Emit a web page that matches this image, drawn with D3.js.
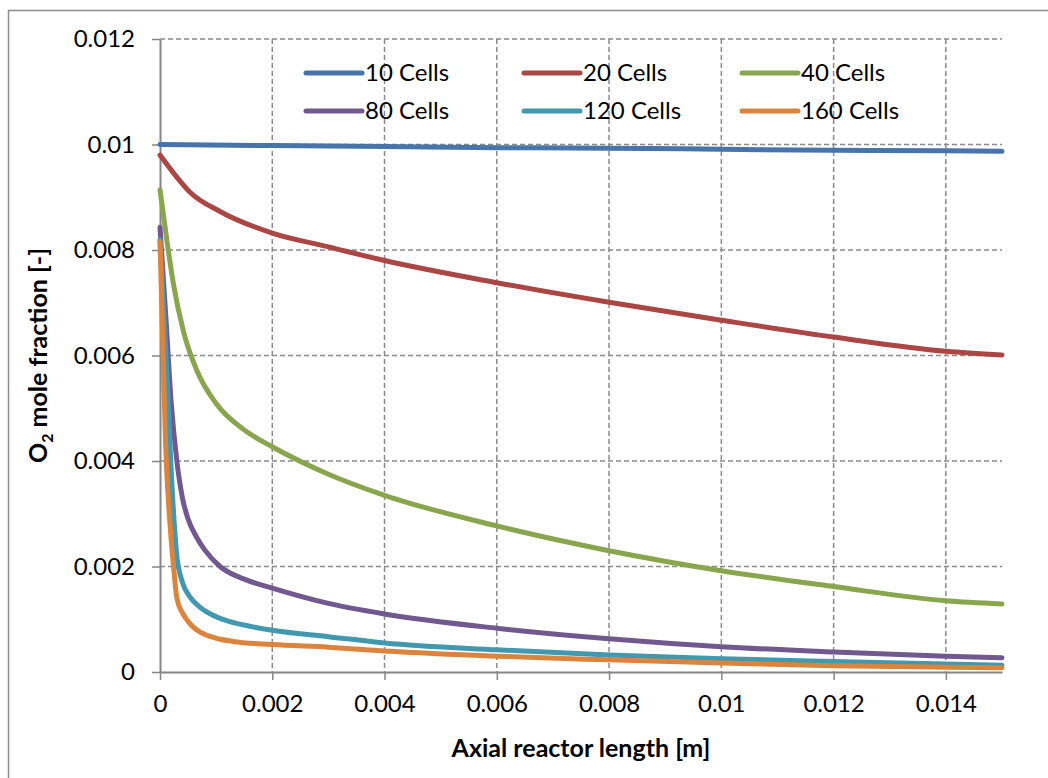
<!DOCTYPE html>
<html>
<head>
<meta charset="utf-8">
<script src="https://d3js.org/d3.v7.min.js"></script>
<style>
  body { margin: 0; background: #fff; }
  text { font-family: Lato, "Noto Sans", sans-serif; fill: #000; }
</style>
</head>
<body>
<div id="chart"></div>
<script>

// ---- data ----
var seriesNames = ["10 Cells", "20 Cells", "40 Cells", "80 Cells", "120 Cells", "160 Cells"];

var x10  = [0, 0.002, 0.004, 0.006, 0.008, 0.010, 0.012, 0.014, 0.015];
var y10  = [0.0100, 0.00998, 0.00996, 0.00994, 0.00993, 0.00991, 0.00989, 0.00988, 0.00987];

var x20  = [0, 0.00027, 0.00053, 0.00107, 0.002, 0.003, 0.004, 0.006, 0.008, 0.010, 0.012, 0.014, 0.015];
var y20  = [0.0098, 0.00942, 0.0091, 0.00873, 0.00832, 0.00806, 0.0078, 0.00738, 0.00701, 0.00667, 0.00635, 0.00608, 0.00601];

var x40  = [0, 0.00012, 0.00024, 0.00042, 0.00065, 0.001, 0.0015, 0.002, 0.003, 0.004, 0.006, 0.008, 0.010, 0.012, 0.014, 0.015];
var y40  = [0.00914, 0.0082, 0.00735, 0.00645, 0.00573, 0.00509, 0.00459, 0.00427, 0.00375, 0.00335, 0.00277, 0.0023, 0.00192, 0.00162, 0.00135, 0.00129];

var x80  = [0, 0.0001, 0.0002, 0.0003, 0.0004, 0.0005, 0.00065, 0.0008, 0.00107, 0.0015, 0.002, 0.003, 0.004, 0.006, 0.008, 0.010, 0.012, 0.014, 0.015];
var y80  = [0.00843, 0.0068, 0.0051, 0.0040, 0.0033, 0.0029, 0.00256, 0.00231, 0.0020, 0.00176, 0.00159, 0.0013, 0.0011, 0.00083, 0.00063, 0.00048, 0.00038, 0.0003, 0.00027];

var x120 = [0, 0.0001, 0.0002, 0.0003, 0.0004, 0.00053, 0.0007, 0.0009, 0.0012, 0.0015, 0.002, 0.003, 0.004, 0.006, 0.008, 0.010, 0.012, 0.014, 0.015];
var y120 = [0.0082, 0.0062, 0.0038, 0.0022, 0.0017, 0.00143, 0.00124, 0.0011, 0.00097, 0.00089, 0.00079, 0.00067, 0.00055, 0.00042, 0.00032, 0.00025, 0.0002, 0.00015, 0.00013];

var x160 = [0, 0.0001, 0.0002, 0.00025, 0.0003, 0.0004, 0.0005, 0.00065, 0.0008, 0.001, 0.0013, 0.002, 0.003, 0.004, 0.006, 0.008, 0.010, 0.012, 0.014, 0.015];
var y160 = [0.00816, 0.0043, 0.0025, 0.0019, 0.0014, 0.00112, 0.00096, 0.0008, 0.00071, 0.00064, 0.00058, 0.00052, 0.00047, 0.0004, 0.0003, 0.00023, 0.00017, 0.00012, 0.00009, 0.00008];

var xTicks = [0, 0.002, 0.004, 0.006, 0.008, 0.010, 0.012, 0.014];
var yTicks = [0, 0.002, 0.004, 0.006, 0.008, 0.010, 0.012];

// ---- styles ----
var colors = ["#4674ab", "#aa4643", "#89a54e", "#71588f", "#4198af", "#db843d"];
var gridColor = "#8a8a8a";

var allX = [x10, x20, x40, x80, x120, x160];
var allY = [y10, y20, y40, y80, y120, y160];
var series = seriesNames.map(function(name, i) {
  return { name: name, points: allX[i].map(function(x, j) { return { x: x, y: allY[i][j] }; }) };
});

var W = 1048, H = 778;
var margin = {top: 39, right: 46, bottom: 106, left: 160};
var width = W - margin.left - margin.right,
    height = H - margin.top - margin.bottom;

var svg = d3.select("#chart").append("svg")
    .attr("width", W)
    .attr("height", H);

svg.append("rect").attr("width", W).attr("height", H).attr("fill", "#fff");

// outer chart border
svg.append("rect")
    .attr("x", 8.5).attr("y", 10.5)
    .attr("width", 1100).attr("height", 800)
    .attr("fill", "none")
    .attr("stroke", "#8c8c8c")
    .attr("stroke-width", 1.5);

var g = svg.append("g")
    .attr("transform", "translate(" + margin.left + "," + margin.top + ")");

var x = d3.scaleLinear().domain([0, 0.015]).range([0, width]);
var y = d3.scaleLinear().domain([0, 0.012]).range([height, 0]);

var fmt = function(d) { return String(+d.toFixed(3)); };

// gridlines
g.append("g")
  .selectAll("line").data(yTicks.filter(function(d) { return d > 0; }))
  .enter().append("line")
    .attr("x1", 0).attr("x2", width)
    .attr("y1", function(d) { return y(d); })
    .attr("y2", function(d) { return y(d); })
    .attr("stroke", gridColor).attr("stroke-width", 1.5)
    .attr("stroke-dasharray", "5,3");

g.append("g")
  .selectAll("line").data(xTicks.filter(function(d) { return d > 0; }))
  .enter().append("line")
    .attr("x1", function(d) { return x(d); })
    .attr("x2", function(d) { return x(d); })
    .attr("y1", 0).attr("y2", height)
    .attr("stroke", gridColor).attr("stroke-width", 1.5)
    .attr("stroke-dasharray", "5,3");

// axes
var xAxis = g.append("g")
    .attr("transform", "translate(0," + height + ")")
    .call(d3.axisBottom(x).tickValues(xTicks).tickFormat(fmt).tickSize(8).tickSizeOuter(0).tickPadding(15));
var yAxis = g.append("g")
    .call(d3.axisLeft(y).tickValues(yTicks).tickFormat(fmt).tickSize(8).tickSizeOuter(0).tickPadding(17));

[xAxis, yAxis].forEach(function(a) {
  a.select(".domain").attr("stroke", "#868686").attr("stroke-width", 2);
  a.selectAll(".tick line").attr("stroke", "#868686").attr("stroke-width", 1.5);
  a.selectAll(".tick text").attr("font-family", "Lato").attr("font-size", 24).attr("fill", "#000");
});

// lines
var line = d3.line()
    .x(function(d) { return x(d.x); })
    .y(function(d) { return y(d.y); })
    .curve(d3.curveMonotoneX);

g.selectAll(".series").data(series)
  .enter().append("path")
    .attr("class", "series")
    .attr("fill", "none")
    .attr("stroke", function(d, i) { return colors[i]; })
    .attr("stroke-width", 5)
    .attr("stroke-linecap", "round")
    .attr("stroke-linejoin", "round")
    .attr("d", function(d) { return line(d.points); });

// legend
var legend = svg.append("g").selectAll("g").data(seriesNames)
  .enter().append("g")
    .attr("transform", function(d, i) {
      return "translate(" + (306 + (i % 3) * 218) + "," + (73 + Math.floor(i / 3) * 38) + ")";
    });
legend.append("line")
    .attr("x1", 0).attr("x2", 56).attr("y1", 0).attr("y2", 0)
    .attr("stroke", function(d, i) { return colors[i]; })
    .attr("stroke-width", 5)
    .attr("stroke-linecap", "round");
legend.append("text")
    .attr("x", 59).attr("y", 0).attr("dy", "0.35em")
    .attr("font-size", 24)
    .text(function(d) { return d; });

// axis titles
svg.append("text")
    .attr("x", margin.left + width / 2)
    .attr("y", 757)
    .attr("text-anchor", "middle")
    .attr("font-size", 25)
    .attr("font-weight", "bold")
    .text("Axial reactor length [m]");

var yt = svg.append("text")
    .attr("transform", "translate(47," + (margin.top + height / 2) + ") rotate(-90)")
    .attr("text-anchor", "middle")
    .attr("font-size", 25)
    .attr("font-weight", "bold");
yt.append("tspan").text("O");
yt.append("tspan").attr("font-size", 16).attr("dy", 6).text("2");
yt.append("tspan").attr("dy", -6).text(" mole fraction [-]");

</script>
</body>
</html>
